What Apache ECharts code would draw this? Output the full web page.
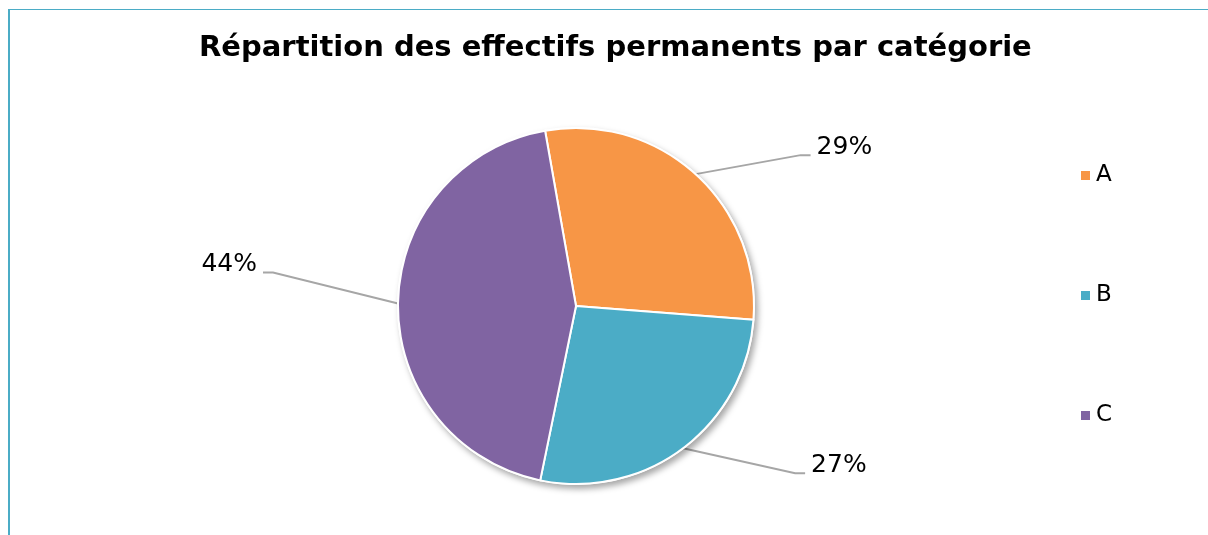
<!DOCTYPE html>
<html>
<head>
<meta charset="utf-8">
<script src="https://cdn.jsdelivr.net/npm/echarts@6/dist/echarts.min.js"></script>
<style>
  html, body { margin: 0; padding: 0; background: #fff; }
  #frame {
    position: absolute; left: 8px; top: 9px; right: 0; bottom: 0;
    border-left: 2px solid #4bacc6; border-top: 1px solid #4bacc6;
  }
  #chart { position: absolute; left: 0; top: 0; width: 1208px; height: 535px; }
</style>
</head>
<body>
<div id="frame"></div>
<div id="chart"></div>
<script>
// données du graphique
var categories = ["A", "B", "C"];
var pourcentages = [29, 27, 44];
var couleurs = ["#f79646", "#4bacc6", "#8064a2"];

// décalage du coude de chaque ligne de rappel par rapport au bord du secteur
var coudes = [[105, -19], [112, 25], [-125, -31]];

var chart = echarts.init(document.getElementById("chart"));

var data = categories.map(function(c, i) {
  return { name: c, value: pourcentages[i] };
});

var option = {
  color: couleurs,
  animation: false,
  title: {
    text: "Répartition des effectifs permanents par catégorie",
    left: 194,
    top: 29,
    textStyle: {
      fontFamily: "DejaVu Sans",
      fontWeight: "bold",
      fontSize: 29,
      color: "#000"
    }
  },
  legend: {
    orient: "vertical",
    left: 1074,
    top: 159,
    itemWidth: 11,
    itemHeight: 11,
    itemGap: 97,
    icon: "rect",
    textStyle: {
      fontFamily: "DejaVu Sans",
      fontSize: 23,
      lineHeight: 22,
      color: "#000"
    },
    data: categories
  },
  series: [
    {
      // ombre du disque, sous les secteurs
      type: "pie",
      center: [576, 306],
      radius: 179,
      silent: true,
      legendHoverLink: false,
      data: [{ name: "", value: 1 }],
      label: { show: false },
      labelLine: { show: false },
      itemStyle: {
        color: "#fff",
        shadowBlur: 6,
        shadowOffsetX: 3,
        shadowOffsetY: 4,
        shadowColor: "rgba(0,0,0,0.35)"
      },
      tooltip: { show: false }
    },
    {
      type: "pie",
      center: [576, 306],
      radius: 178,
      startAngle: 100,
      clockwise: true,
      data: data,
      itemStyle: {
        borderColor: "#fff",
        borderWidth: 2
      },
      label: {
        show: true,
        formatter: function(p) { return p.value + "%"; },
        fontFamily: "DejaVu Sans",
        fontSize: 25,
        color: "#000"
      },
      labelLine: {
        show: true,
        length: 20,
        length2: 10,
        lineStyle: { color: "#a6a6a6", width: 2 }
      },
      labelLayout: function(p) {
        var pts = p.labelLinePoints;
        if (!pts) return {};
        var s = pts[0];
        var o = coudes[p.dataIndex];
        var sign = o[0] > 0 ? 1 : -1;
        var elbow = [s[0] + o[0], s[1] + o[1]];
        var end = [elbow[0] + sign * 10, elbow[1]];
        return {
          x: end[0] + sign * 6,
          y: elbow[1] - 8,
          align: sign > 0 ? "left" : "right",
          verticalAlign: "middle",
          labelLinePoints: [s, elbow, end]
        };
      }
    }
  ]
};

chart.setOption(option);
</script>
</body>
</html>
